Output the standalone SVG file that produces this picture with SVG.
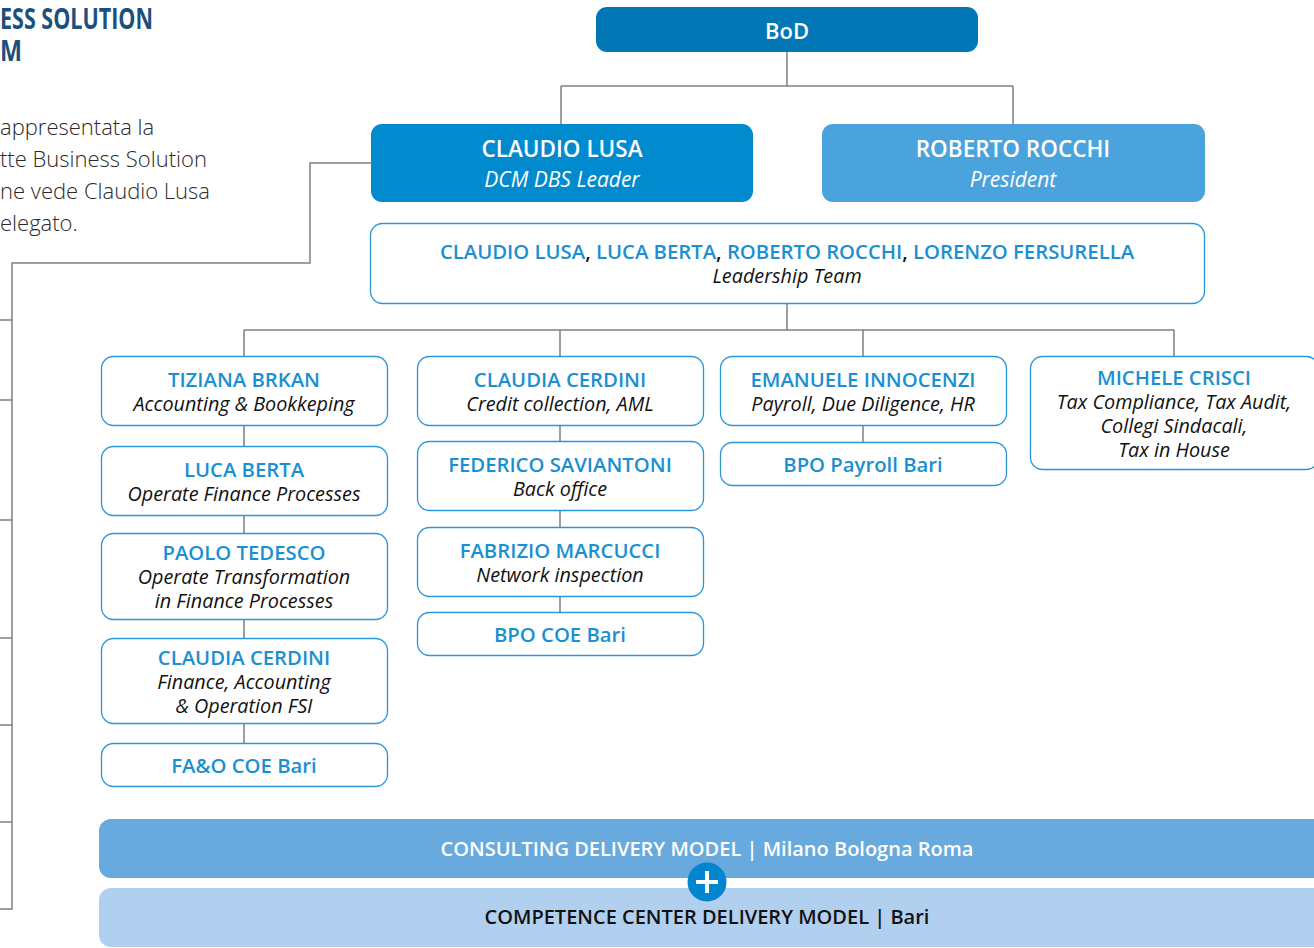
<svg xmlns="http://www.w3.org/2000/svg" width="1314" height="948" viewBox="0 0 1314 948">
<style>
.t{font-family:"Open Sans","Liberation Sans",sans-serif}
.title{font-family:"Open Sans","Liberation Sans",sans-serif;font-weight:700;font-size:28px;fill:#1d4f7d}
.para{font-family:"Open Sans","Liberation Sans",sans-serif;font-weight:300;font-size:22px;fill:#2a2a2a}
.box{fill:#fff;stroke:#2b96d6;stroke-width:1.3}
.nm{font-family:"Open Sans","Liberation Sans",sans-serif;font-weight:600;font-size:20.3px;fill:#1a90d2;text-anchor:middle}
.rl{font-family:"Open Sans","Liberation Sans",sans-serif;font-style:italic;font-size:19.8px;fill:#111;text-anchor:middle}
.wn{font-family:"Open Sans","Liberation Sans",sans-serif;font-weight:600;font-size:22.5px;fill:#fff;text-anchor:middle}
.wr{font-family:"Open Sans","Liberation Sans",sans-serif;font-style:italic;font-size:21px;fill:#fff;text-anchor:middle}
.ln{fill:none;stroke:#808080;stroke-width:1.5}
</style>
<rect width="1314" height="948" fill="#fff"/>
<g id="title">
<text class="title" x="0" y="29" textLength="153" lengthAdjust="spacingAndGlyphs">ESS SOLUTION</text>
<text class="title" x="0" y="61" textLength="22" lengthAdjust="spacingAndGlyphs">M</text>
</g>
<g id="paragraph">
<text class="para" x="0" y="135">appresentata la</text>
<text class="para" x="0" y="167">tte Business Solution</text>
<text class="para" x="0" y="199">ne vede Claudio Lusa</text>
<text class="para" x="0" y="231">elegato.</text>
</g>
<g id="connectors" class="ln">
<path d="M787 52V86M561 86H1013M561 86V124M1013 86V124"/>
<path d="M371 163H310V263H12V909H0"/>
<path d="M0 320H12M0 400H12M0 520H12M0 638H12M0 725H12M0 822H12"/>
<path d="M787 304V330M244 330H1174M244 330V356M560 330V356M863 330V356M1174 330V356"/>
<path d="M244 426V446M244 516V533M244 620V638M244 724V743"/>
<path d="M560 426V441M560 511V527M560 597V612"/>
<path d="M863 426V442"/>
</g>
<g id="bod">
<rect x="596" y="7" width="382" height="45" rx="11" fill="#0277b5"/>
<text class="wn" x="787" y="38.5" style="font-size:22px">BoD</text>
</g>
<g id="claudio-lusa">
<rect x="371" y="124" width="382" height="78" rx="11" fill="#028acf"/>
<text class="wn" x="562" y="157">CLAUDIO LUSA</text>
<text class="wr" x="562" y="187">DCM DBS Leader</text>
</g>
<g id="roberto-rocchi">
<rect x="822" y="124" width="383" height="78" rx="11" fill="#4ba3dd"/>
<text class="wn" x="1013" y="157">ROBERTO ROCCHI</text>
<text class="wr" x="1013" y="187">President</text>
</g>
<g id="leadership">
<rect class="box" x="370.5" y="223.5" width="834" height="80" rx="12"/>
<text class="nm" x="787" y="259"><tspan>CLAUDIO LUSA</tspan><tspan fill="#111">, </tspan><tspan>LUCA BERTA</tspan><tspan fill="#111">, </tspan><tspan>ROBERTO ROCCHI</tspan><tspan fill="#111">, </tspan><tspan>LORENZO FERSURELLA</tspan></text>
<text class="rl" x="787" y="283">Leadership Team</text>
</g>
<g id="tiziana-brkan">
<rect class="box" x="101.5" y="356.5" width="286" height="69" rx="12"/>
<text class="nm" x="244" y="387">TIZIANA BRKAN</text>
<text class="rl" x="244" y="411">Accounting &amp; Bookkeping</text>
</g>
<g id="luca-berta">
<rect class="box" x="101.5" y="446.5" width="286" height="69" rx="12"/>
<text class="nm" x="244" y="477">LUCA BERTA</text>
<text class="rl" x="244" y="501">Operate Finance Processes</text>
</g>
<g id="paolo-tedesco">
<rect class="box" x="101.5" y="533.5" width="286" height="86" rx="12"/>
<text class="nm" x="244" y="560">PAOLO TEDESCO</text>
<text class="rl" x="244" y="584">Operate Transformation</text>
<text class="rl" x="244" y="608">in Finance Processes</text>
</g>
<g id="claudia-cerdini-fsi">
<rect class="box" x="101.5" y="638.5" width="286" height="85" rx="12"/>
<text class="nm" x="244" y="665">CLAUDIA CERDINI</text>
<text class="rl" x="244" y="689">Finance, Accounting</text>
<text class="rl" x="244" y="713">&amp; Operation FSI</text>
</g>
<g id="fao-coe-bari">
<rect class="box" x="101.5" y="743.5" width="286" height="43" rx="12"/>
<text class="nm" x="244" y="773">FA&amp;O COE Bari</text>
</g>
<g id="claudia-cerdini-aml">
<rect class="box" x="417.5" y="356.5" width="286" height="69" rx="12"/>
<text class="nm" x="560" y="387">CLAUDIA CERDINI</text>
<text class="rl" x="560" y="411">Credit collection, AML</text>
</g>
<g id="federico-saviantoni">
<rect class="box" x="417.5" y="441.5" width="286" height="69" rx="12"/>
<text class="nm" x="560" y="472">FEDERICO SAVIANTONI</text>
<text class="rl" x="560" y="496">Back office</text>
</g>
<g id="fabrizio-marcucci">
<rect class="box" x="417.5" y="527.5" width="286" height="69" rx="12"/>
<text class="nm" x="560" y="558">FABRIZIO MARCUCCI</text>
<text class="rl" x="560" y="582">Network inspection</text>
</g>
<g id="bpo-coe-bari">
<rect class="box" x="417.5" y="612.5" width="286" height="43" rx="12"/>
<text class="nm" x="560" y="642">BPO COE Bari</text>
</g>
<g id="emanuele-innocenzi">
<rect class="box" x="720.5" y="356.5" width="286" height="69" rx="12"/>
<text class="nm" x="863" y="387">EMANUELE INNOCENZI</text>
<text class="rl" x="863" y="411">Payroll, Due Diligence, HR</text>
</g>
<g id="bpo-payroll-bari">
<rect class="box" x="720.5" y="442.5" width="286" height="43" rx="12"/>
<text class="nm" x="863" y="472">BPO Payroll Bari</text>
</g>
<g id="michele-crisci">
<rect class="box" x="1030.5" y="356.5" width="288" height="113" rx="12"/>
<text class="nm" x="1174" y="385">MICHELE CRISCI</text>
<text class="rl" x="1174" y="409">Tax Compliance, Tax Audit,</text>
<text class="rl" x="1174" y="433">Collegi Sindacali,</text>
<text class="rl" x="1174" y="457">Tax in House</text>
</g>
<g id="consulting">
<rect x="99" y="819" width="1230" height="59" rx="12" fill="#68aade"/>
<text class="t" x="707" y="856" text-anchor="middle" font-weight="600" font-size="20" fill="#fff">CONSULTING DELIVERY MODEL | Milano Bologna Roma</text>
</g>
<g id="competence">
<rect x="99" y="888" width="1230" height="59" rx="12" fill="#b1cfee"/>
<text class="t" x="707" y="924" text-anchor="middle" font-weight="600" font-size="20" fill="#111">COMPETENCE CENTER DELIVERY MODEL | Bari</text>
</g>
<g id="plus">
<circle cx="707" cy="882" r="19.5" fill="#0285cf"/>
<path d="M707 871V893M696 882H718" stroke="#fff" stroke-width="4"/>
</g>
</svg>
